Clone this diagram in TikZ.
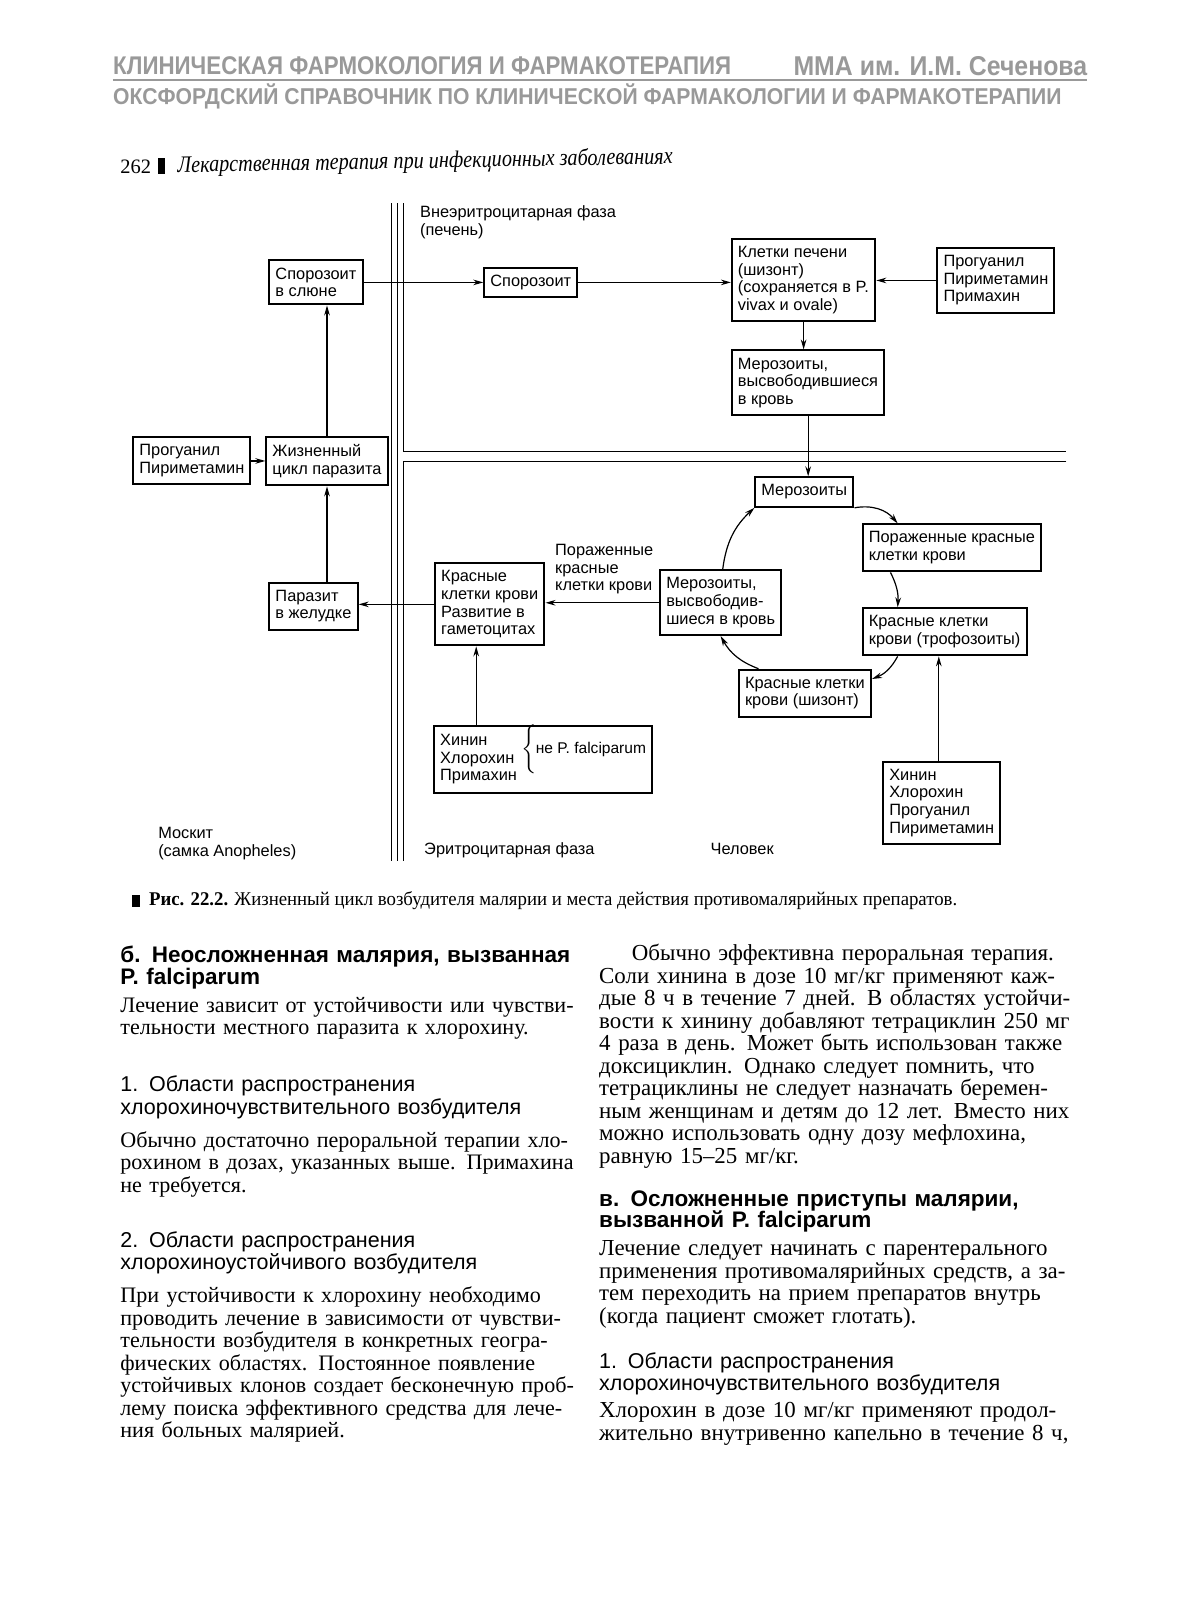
\documentclass[tikz,border=0pt]{standalone}
\usepackage{fontspec}
\setmainfont{Liberation Serif}
\setsansfont{Liberation Sans}
\usepackage{graphicx}
\usetikzlibrary{arrows.meta, calc}

\definecolor{hdrgray}{gray}{0.6}
\newcommand{\dgfont}{\sffamily\fontsize{8}{8.6}\selectfont}
\newcommand{\txtfontL}{\rmfamily\fontsize{10.8}{11}\selectfont}
\newcommand{\txtfontR}{\rmfamily\fontsize{11.2}{11}\selectfont}
\newcommand{\hdfont}{\sffamily\fontsize{10.5}{11}\selectfont}
\newcommand{\hdbfont}{\sffamily\bfseries\fontsize{11}{10.5}\selectfont}
\newcommand{\jl}[1]{\makebox[\hsize][s]{#1}\par}

\tikzset{
  box/.style={draw, line width=1pt, inner xsep=3pt, inner ysep=3.6pt, align=left, font=\dgfont, anchor=north west},
  lbl/.style={inner sep=0pt, align=left, font=\dgfont, anchor=north west},
  arr/.style={-{Stealth[length=5pt,width=2.8pt]}, line width=0.6pt},
  sep/.style={line width=0.5pt},
  para/.style={inner sep=0pt, align=left, anchor=north west, font=\txtfontL, text width=#1,
    execute at begin node=\setlength{\parindent}{0pt}},
}

\begin{document}
\begin{tikzpicture}[x=0.5pt, y=-0.5pt]
\useasboundingbox (0,0) rectangle (1195,1600);
\fill[white] (0,0) rectangle (1195,1600);

\begin{scope}[shift={(-2.76,-1.5)}, scale=1.023, transform shape]
% page header
\node[anchor=base west, inner sep=0pt, text=hdrgray] (hdrA) at (113,74) {\resizebox{302pt}{\height}{\sffamily\bfseries\fontsize{12.5}{14}\selectfont КЛИНИЧЕСКАЯ ФАРМОКОЛОГИЯ И ФАРМАКОТЕРАПИЯ}};
\node[anchor=base west, inner sep=0pt, text=hdrgray] (hdrB) at (778,75) {\resizebox{143.5pt}{\height}{\sffamily\bfseries\fontsize{13.3}{15}\selectfont ММА им. И.М. Сеченова}};
\draw[hdrgray, line width=1pt] (113,80) -- (1065,80);
\node[anchor=base west, inner sep=0pt, text=hdrgray] (hdrC) at (113,104) {\resizebox{463.5pt}{\height}{\sffamily\bfseries\fontsize{11.2}{13}\selectfont ОКСФОРДСКИЙ СПРАВОЧНИК ПО КЛИНИЧЕСКОЙ ФАРМАКОЛОГИИ И ФАРМАКОТЕРАПИИ}};

% running head
\node[anchor=base west, inner sep=0pt] (pgnum) at (120,171) {\fontsize{10}{12}\selectfont 262};
\fill (157,156) rectangle (164,172);
\node[anchor=base west, inner sep=0pt, rotate=1] (runhead) at (176,170) {\resizebox{242pt}{\height}{\itshape\fontsize{11.5}{13}\selectfont Лекарственная терапия при инфекционных заболеваниях}};

% phase borders
\draw[sep] (385,200) -- (385,843);
\draw[sep] (391,200) -- (391,843);
\draw[sep] (397,200) -- (397,443) -- (1045,443);
\draw[sep] (1045,453) -- (397,453) -- (397,843);

\node[lbl] (liver) at (413,202) {Внеэритроцитарная фаза\\(печень)};

% mosquito
\node[box] (slyuna) at (265,255) {Спорозоит\\в слюне};
\node[box] (progL) at (132,428) {Прогуанил\\Пириметамин};
\node[box] (cycle) at (262,428) {Жизненный\\цикл паразита};
\node[box] (zhel) at (265,570) {Паразит\\в желудке};

% liver
\node[box] (sporo) at (475,262) {Спорозоит};
\node[box] (pechen) at (717,234) {Клетки печени\\(шизонт)\\(сохраняется в P.\\vivax и ovale)};
\node[box] (progR) at (918,243) {Прогуанил\\Пириметамин\\Примахин};
\node[box] (merozL) at (717,343) {Мерозоиты,\\высвободившиеся\\в кровь};

% blood
\node[box] (merozB) at (740,467) {Мерозоиты};
\node[box] (porazh) at (845,513) {Пораженные красные\\клетки крови};
\node[box] (troph) at (845,595) {Красные клетки\\крови (трофозоиты)};
\node[box] (shiz) at (724,655) {Красные клетки\\крови (шизонт)};
\node[box] (merozC) at (647,558) {Мерозоиты,\\высвободив-\\шиеся в кровь};
\node[box] (gamet) at (427,551) {Красные\\клетки крови\\Развитие в\\гаметоцитах};
\node[lbl] (lblPor) at (545,533) {Пораженные\\красные\\клетки крови};
\node[box] (hininA) at (426,710) {\begin{tabular}{@{}l@{\hspace{2pt}}l@{}}Хинин & \smash{\raisebox{-4pt}{$\left\{\vrule height 8.6pt depth 8.6pt width 0pt\right.$\hspace{-1.5pt}\fontsize{7.6}{8.6}\selectfont не P. falciparum}}\\Хлорохин & \\Примахин & \end{tabular}};
\node[box] (hininB) at (865,745) {Хинин\\Хлорохин\\Прогуанил\\Пириметамин};

\node[lbl] (moskit) at (157,810) {Москит\\(самка Anopheles)};
\node[lbl] (eritr) at (417,825) {Эритроцитарная фаза};
\node[lbl] (chel) at (697,825) {Человек};

% arrows
\draw[arr] (slyuna.east) -- (slyuna.east -| sporo.west);
\draw[arr] (sporo.east) -- (sporo.east -| pechen.west);
\draw[arr] (progR.west) -- (progR.west -| pechen.east);
\draw[arr] (pechen.south) -- (pechen.south |- merozL.north);
\draw[arr] (merozL.south) -- (merozL.south |- merozB.north);
\draw[arr] (merozB.south east) to[bend left=30] ($(porazh.north west)+(35,0)$);
\draw[arr] ($(porazh.south west)+(28,0)$) to[bend left=15] ($(troph.north west)+(35,0)$);
\draw[arr] ($(troph.south west)+(35,0)$) to[bend left=20] ($(shiz.north east)+(0,10)$);
\draw[arr] ($(shiz.north west)+(20,0)$) to[bend left=20] ($(merozC.south west)+(60,0)$);
\draw[arr] ($(merozC.north west)+(62,0)$) to[bend left=20] (merozB.south west);
\draw[arr] (merozC.west) -- (merozC.west -| gamet.east);
\draw[arr] (gamet.west) -- (gamet.west -| zhel.east);
\coordinate (hA) at ($(hininA.north west)+(42,0)$);
\draw[arr] (hA) -- (hA |- gamet.south);
\coordinate (hB) at ($(hininB.north west)+(55,0)$);
\draw[arr] (hB) -- (hB |- troph.south);
\draw[arr] (cycle.south |- zhel.north) -- (cycle.south);
\draw[arr] (cycle.north) -- (cycle.north |- slyuna.south);
\draw[arr] (progL.east) -- (progL.east -| cycle.west);

% caption
\fill (132,876) rectangle (140,888);
\node[anchor=base west, inner sep=0pt] (capt) at (148,887) {\resizebox{395pt}{\height}{\fontsize{9.5}{11}\selectfont\textbf{Рис. 22.2.} Жизненный цикл возбудителя малярии и места действия противомалярийных препаратов.}};

% left column
\node[para=221.5pt, font=\hdbfont] (hdB) at (120,926) {б. Неосложненная малярия, вызванная\\P. falciparum};
\node[para=221.5pt] (txB) at (120,976) {\jl{Лечение зависит от устойчивости или чувстви-}тельности местного паразита к хлорохину.};
\node[para=221.5pt, font=\hdfont] (hdB1) at (120,1053) {1. Области распространения\\хлорохиночувствительного возбудителя};
\node[para=221.5pt] (txB1) at (120,1107) {\jl{Обычно достаточно пероральной терапии хло-}\jl{рохином в дозах, указанных выше. Примахина}не требуется.};
\node[para=221.5pt, font=\hdfont] (hdB2) at (120,1205) {2. Области распространения\\хлорохиноустойчивого возбудителя};
\node[para=221.5pt] (txB2) at (120,1259) {\jl{При устойчивости к хлорохину необходимо}\jl{проводить лечение в зависимости от чувстви-}\jl{тельности возбудителя в конкретных геогра-}\jl{фических областях. Постоянное появление}\jl{устойчивых клонов создает бесконечную проб-}\jl{лему поиска эффективного средства для лече-}ния больных малярией.};

% right column
\node[para=237pt, font=\txtfontR] (txR) at (588,924) {\jl{\hspace*{16pt}Обычно эффективна пероральная терапия.}\jl{Соли хинина в дозе 10 мг/кг применяют каж-}\jl{дые 8 ч в течение 7 дней. В областях устойчи-}\jl{вости к хинину добавляют тетрациклин 250 мг}\jl{4 раза в день. Может быть использован также}\jl{доксициклин. Однако следует помнить, что}\jl{тетрациклины не следует назначать беремен-}\jl{ным женщинам и детям до 12 лет. Вместо них}\jl{можно использовать одну дозу мефлохина,}равную 15–25 мг/кг.};
\node[para=237pt, font=\hdbfont] (hdV) at (588,1165) {в. Осложненные приступы малярии,\\вызванной P. falciparum};
\node[para=237pt, font=\txtfontR] (txV) at (588,1214) {\jl{Лечение следует начинать с парентерального}\jl{применения противомалярийных средств, а за-}\jl{тем переходить на прием препаратов внутрь}(когда пациент сможет глотать).};
\node[para=237pt, font=\hdfont] (hdV1) at (588,1323) {1. Области распространения\\хлорохиночувствительного возбудителя};
\node[para=237pt, font=\txtfontR] (txV1) at (588,1372) {\jl{Хлорохин в дозе 10 мг/кг применяют продол-}\jl{жительно внутривенно капельно в течение 8 ч,}};
\end{scope}
\end{tikzpicture}
\end{document}
